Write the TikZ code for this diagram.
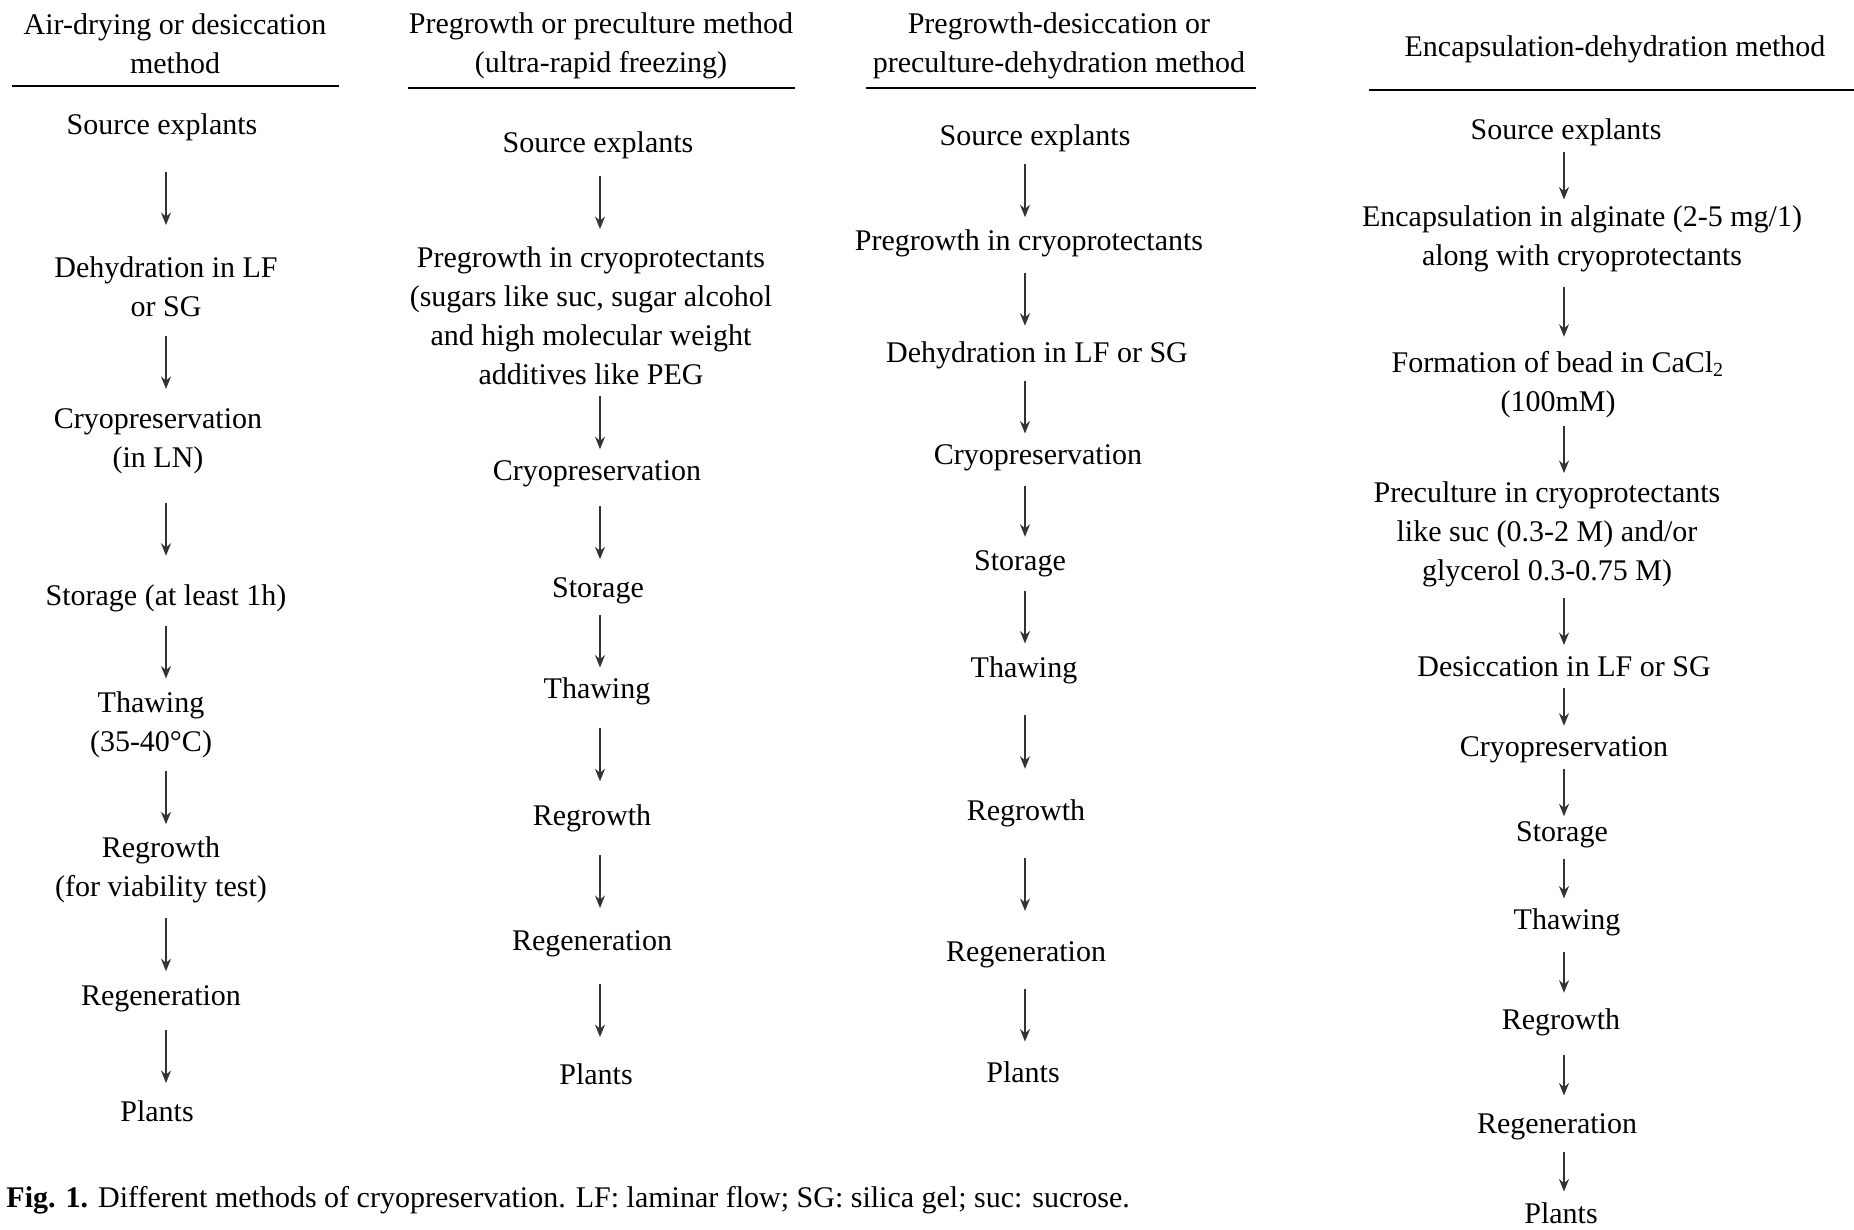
\documentclass[tikz,border=0pt]{standalone}
\usepackage{fontspec}
\setmainfont{Liberation Serif}
\usetikzlibrary{arrows.meta,positioning,calc}
\definecolor{arrowgray}{HTML}{333333}

% arrow of fixed length #4 (px), centred in the gap between two stages
\newcommand{\stagearrow}[4]{%
  \draw[arrow] ($(#1.south -| #3)!0.5!(#2.north -| #3) + (0,-#4/2)$) -- +(0,#4);}

\begin{document}
\begin{tikzpicture}[
    x=0.4pt, y=-0.4pt,
    stage/.style={inner sep=0pt, align=center, yshift=-1.3pt, font=\fontsize{12}{15.6}\selectfont},
    head/.style={inner sep=0pt, align=center, font=\fontsize{12}{15.6}\selectfont},
    rule/.style={line width=0.8pt},
    arrow/.style={-{Stealth[length=5pt,width=4pt]}, line width=0.6pt, draw=arrowgray}
  ]
    \useasboundingbox (0,0) rectangle (1854,1229);

    % Column 1: Air-drying
    \node[head] (hdr1) at (175, 44) {Air-drying or desiccation\\method};
    \draw[rule] (12, 86) -- (339, 86);
    \coordinate (ax1) at (166, 0);
    \node[stage] (src1) at (162, 124) {Source explants};
    \node[stage] (dehy1) at (166, 283) {Dehydration in LF\\or SG};
    \node[stage] (cryo1) at (158, 438) {Cryopreservation\\(in LN)};
    \node[stage] (stor1) at (166, 595) {Storage (at least 1h)};
    \node[stage] (thaw1) at (151, 722) {Thawing\\(35-40°C)};
    \node[stage] (regr1) at (161, 867) {Regrowth\\(for viability test)};
    \node[stage] (rege1) at (161, 996) {Regeneration};
    \node[stage] (plnt1) at (157, 1108) {Plants};
    \stagearrow{src1}{dehy1}{ax1}{53}
    \stagearrow{dehy1}{cryo1}{ax1}{53}
    \stagearrow{cryo1}{stor1}{ax1}{53}
    \stagearrow{stor1}{thaw1}{ax1}{53}
    \stagearrow{thaw1}{regr1}{ax1}{53}
    \stagearrow{regr1}{rege1}{ax1}{53}
    \stagearrow{rege1}{plnt1}{ax1}{53}

    % Column 2: Pregrowth
    \node[head] (hdr2) at (601, 46) {Pregrowth or preculture method\\(ultra-rapid freezing)};
    \draw[rule] (408, 88) -- (795, 88);
    \coordinate (ax2) at (600, 0);
    \node[stage] (src2) at (598, 142) {Source explants};
    \node[stage] (preg2) at (591, 312) {Pregrowth in cryoprotectants\\(sugars like suc, sugar alcohol\\and high molecular weight\\additives like PEG};
    \node[stage] (cryo2) at (597, 471) {Cryopreservation};
    \node[stage] (stor2) at (598, 588) {Storage};
    \node[stage] (thaw2) at (597, 688) {Thawing};
    \node[stage] (regr2) at (592, 815) {Regrowth};
    \node[stage] (rege2) at (592, 941) {Regeneration};
    \node[stage] (plnt2) at (596, 1071) {Plants};
    \stagearrow{src2}{preg2}{ax2}{53}
    \stagearrow{preg2}{cryo2}{ax2}{53}
    \stagearrow{cryo2}{stor2}{ax2}{53}
    \stagearrow{stor2}{thaw2}{ax2}{53}
    \stagearrow{thaw2}{regr2}{ax2}{53}
    \stagearrow{regr2}{rege2}{ax2}{53}
    \stagearrow{rege2}{plnt2}{ax2}{53}

    % Column 3: Pregrowth-desiccation
    \node[head] (hdr3) at (1059, 46) {Pregrowth-desiccation or\\preculture-dehydration method};
    \draw[rule] (866, 88) -- (1256, 88);
    \coordinate (ax3) at (1025, 0);
    \node[stage] (src3) at (1035, 135) {Source explants};
    \node[stage] (preg3) at (1029, 240) {Pregrowth in cryoprotectants};
    \node[stage] (dehy3) at (1037, 352) {Dehydration in LF or SG};
    \node[stage] (cryo3) at (1038, 455) {Cryopreservation};
    \node[stage] (stor3) at (1020, 561) {Storage};
    \node[stage] (thaw3) at (1024, 667) {Thawing};
    \node[stage] (regr3) at (1026, 810) {Regrowth};
    \node[stage] (rege3) at (1026, 952) {Regeneration};
    \node[stage] (plnt3) at (1023, 1069) {Plants};
    \stagearrow{src3}{preg3}{ax3}{53}
    \stagearrow{preg3}{dehy3}{ax3}{53}
    \stagearrow{dehy3}{cryo3}{ax3}{53}
    \stagearrow{cryo3}{stor3}{ax3}{51}
    \stagearrow{stor3}{thaw3}{ax3}{53}
    \stagearrow{thaw3}{regr3}{ax3}{54}
    \stagearrow{regr3}{rege3}{ax3}{53}
    \stagearrow{rege3}{plnt3}{ax3}{53}

    % Column 4: Encapsulation-dehydration
    \node[head] (hdr4) at (1615, 49) {Encapsulation-dehydration method};
    \draw[rule] (1369, 90) -- (1854, 90);
    \coordinate (ax4) at (1564, 0);
    \node[stage] (src4) at (1566, 129) {Source explants};
    \node[stage] (enca4) at (1582, 236) {Encapsulation in alginate (2-5 mg/1)\\along with cryoprotectants};
    \node[stage] (bead4) at (1558, 381) {Formation of bead in CaCl\textsubscript{2}\\(100mM)};
    \node[stage] (prec4) at (1547, 531) {Preculture in cryoprotectants\\like suc (0.3-2 M) and/or\\glycerol 0.3-0.75 M)};
    \node[stage] (desi4) at (1564, 663) {Desiccation in LF or SG};
    \node[stage] (cryo4) at (1564, 747) {Cryopreservation};
    \node[stage] (stor4) at (1562, 832) {Storage};
    \node[stage] (thaw4) at (1567, 919) {Thawing};
    \node[stage] (regr4) at (1561, 1019) {Regrowth};
    \node[stage] (rege4) at (1557, 1124) {Regeneration};
    \node[stage] (plnt4) at (1561, 1210) {Plants};
    \stagearrow{src4}{enca4}{ax4}{47}
    \stagearrow{enca4}{bead4}{ax4}{50}
    \stagearrow{bead4}{prec4}{ax4}{47}
    \stagearrow{prec4}{desi4}{ax4}{47}
    \stagearrow{desi4}{cryo4}{ax4}{38}
    \stagearrow{cryo4}{stor4}{ax4}{47}
    \stagearrow{stor4}{thaw4}{ax4}{40}
    \stagearrow{thaw4}{regr4}{ax4}{41}
    \stagearrow{regr4}{rege4}{ax4}{41}
    \stagearrow{rege4}{plnt4}{ax4}{40}

    % Caption
    \node[stage, anchor=west] (caption) at (6, 1197) {\textbf{Fig. 1.} Different methods of cryopreservation. LF: laminar flow; SG: silica gel; suc: sucrose.};
  \end{tikzpicture}
\end{document}
